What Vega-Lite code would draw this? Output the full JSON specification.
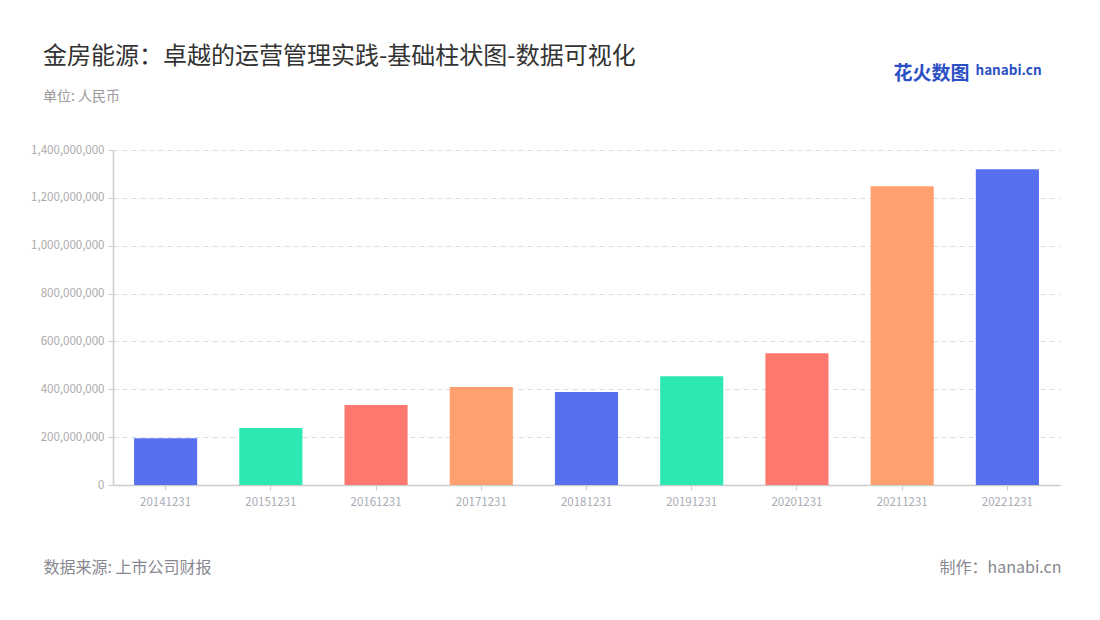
{
  "$schema": "https://vega.github.io/schema/vega-lite/v6.json",
  "autosize": {"type": "none"},
  "width": 947,
  "height": 335,
  "padding": {"left": 113, "top": 150, "right": 40, "bottom": 135},
  "background": "#ffffff",
  "config": {
    "font": "Noto Sans CJK SC",
    "view": {"stroke": null}
  },
  "title": {
    "text": "金房能源：卓越的运营管理实践-基础柱状图-数据可视化",
    "subtitle": "单位: 人民币",
    "anchor": "start",
    "frame": "group",
    "dx": -70,
    "dy": 87,
    "offset": 46,
    "font": "Noto Sans CJK SC",
    "fontSize": 24,
    "fontWeight": "normal",
    "color": "#333333",
    "subtitleFont": "Noto Sans CJK SC",
    "subtitleFontSize": 14,
    "subtitleColor": "#999999",
    "subtitlePadding": 21
  },
  "data": {
    "values": [
      {"year": "20141231", "value": 195000000},
      {"year": "20151231", "value": 238000000},
      {"year": "20161231", "value": 334000000},
      {"year": "20171231", "value": 410000000},
      {"year": "20181231", "value": 389000000},
      {"year": "20191231", "value": 455000000},
      {"year": "20201231", "value": 551000000},
      {"year": "20211231", "value": 1249000000},
      {"year": "20221231", "value": 1320000000}
    ]
  },
  "resolve": {"axis": {"x": "independent", "y": "independent"}},
  "layer": [
    {
      "mark": {"type": "bar"},
      "encoding": {
        "x": {
          "field": "year", "type": "nominal", "sort": null,
          "scale": {"paddingInner": 0.4, "paddingOuter": 0.2},
          "axis": {
            "orient": "bottom",
            "labelAngle": 0,
            "labelColor": "#a8abb5",
            "labelFontSize": 11.5,
            "labelPadding": 6,
            "domainColor": "#cccccc",
            "domainWidth": 1.5,
            "tickColor": "#cccccc",
            "tickSize": 5,
            "grid": false,
            "title": "数据来源: 上市公司财报",
            "titleColor": "#888890",
            "titleFontSize": 16,
            "titleFontWeight": "normal",
            "titleAlign": "left",
            "titleAnchor": "start",
            "titleBaseline": "middle",
            "titleX": -70,
            "titleY": 82
          }
        },
        "y": {
          "field": "value", "type": "quantitative",
          "scale": {"domain": [0, 1400000000], "nice": false},
          "axis": {
            "orient": "left",
            "format": ",d",
            "tickCount": 7,
            "labelColor": "#aaaaaa",
            "labelFontSize": 11.5,
            "labelPadding": 4,
            "domainColor": "#cccccc",
            "domainWidth": 1.5,
            "tickColor": "#cccccc",
            "tickSize": 5,
            "grid": true,
            "gridColor": "#dddddd",
            "gridDash": [5, 4],
            "title": "制作：hanabi.cn",
            "titleAngle": 0,
            "titleColor": "#888890",
            "titleFontSize": 16,
            "titleFontWeight": "normal",
            "titleAlign": "right",
            "titleBaseline": "middle",
            "titleX": 948,
            "titleY": 417
          }
        },
        "color": {
          "field": "year", "type": "nominal", "sort": null,
          "scale": {"range": ["#5770EF", "#2DE8B3", "#FF7870", "#FFA06E", "#5770EF", "#2DE8B3", "#FF7870", "#FFA06E", "#5770EF"]},
          "legend": null
        }
      }
    },
    {
      "mark": {"type": "bar", "opacity": 0},
      "encoding": {
        "x": {
          "field": "year", "type": "nominal", "sort": null,
          "axis": {
            "orient": "top", "labels": false, "ticks": false, "domain": false, "grid": false,
            "title": "花火数图",
            "titleColor": "#2B4FC4",
            "titleFontSize": 19,
            "titleFontWeight": "bold",
            "titleAlign": "left",
            "titleBaseline": "middle",
            "titleX": 780,
            "titleY": -77
          }
        },
        "y": {
          "field": "value", "type": "quantitative",
          "axis": {
            "orient": "right", "labels": false, "ticks": false, "domain": false, "grid": false,
            "title": "hanabi.cn",
            "titleAngle": 0,
            "titleColor": "#2B4FC4",
            "titleFontSize": 13.5,
            "titleFontWeight": "bold",
            "titleAlign": "left",
            "titleBaseline": "middle",
            "titleX": -85,
            "titleY": -80
          }
        }
      }
    }
  ]
}
